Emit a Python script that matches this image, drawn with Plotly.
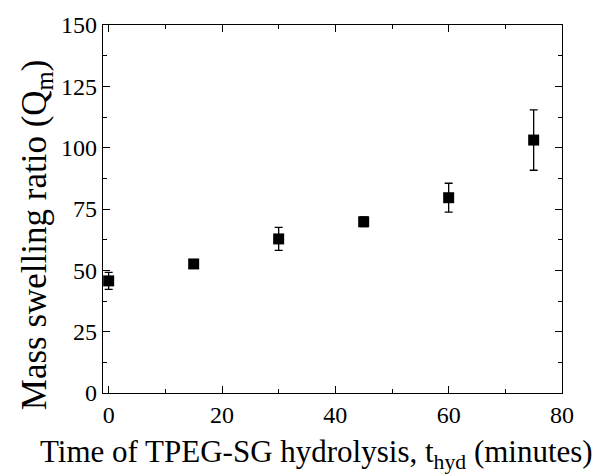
import plotly.graph_objects as go

time_min = [0, 15, 30, 45, 60, 75]
swelling = [45.7, 52.6, 62.8, 69.8, 79.6, 103.1]
swelling_err = [3.5, 1.0, 4.7, 2.0, 5.9, 12.3]

FONT = "'Times New Roman', 'Liberation Serif', Tinos, Times, serif"

fig = go.Figure()
fig.add_trace(go.Scatter(
    x=time_min, y=swelling, mode="markers",
    marker=dict(symbol="square", size=11, color="black"),
    error_y=dict(type="data", array=swelling_err, color="black", thickness=1.3, width=4),
    showlegend=False,
))

axis_common = dict(
    showline=True, linecolor="black", linewidth=1.3, mirror="ticks",
    ticks="inside", ticklen=7, tickwidth=1.3, tickcolor="black",
    showgrid=False, zeroline=False,
    tickfont=dict(family=FONT, size=24, color="black"),
)

fig.update_xaxes(range=[-1, 80], tick0=0, dtick=20,
                 minor=dict(dtick=10, ticks="inside", ticklen=4, tickwidth=1.3, tickcolor="black"),
                 **axis_common)
fig.update_yaxes(range=[0, 150], tick0=0, dtick=25,
                 minor=dict(dtick=12.5, ticks="inside", ticklen=4, tickwidth=1.3, tickcolor="black"),
                 **axis_common)

fig.add_annotation(
    text="Mass swelling ratio (Q<sub>m</sub>)", textangle=-90,
    xref="paper", yref="paper", x=-0.145, y=0.43, xanchor="center", yanchor="middle",
    showarrow=False, font=dict(family=FONT, size=35, color="black"),
)
fig.add_annotation(
    text="Time of TPEG-SG hydrolysis, t<sub>hyd</sub> (minutes)",
    xref="paper", yref="paper", x=0.465, y=-0.166, xanchor="center", yanchor="middle",
    showarrow=False, font=dict(family=FONT, size=31, color="black"),
)

fig.update_layout(
    width=600, height=476,
    margin=dict(l=103, r=38, t=22, b=83),
    paper_bgcolor="white", plot_bgcolor="white",
    font=dict(family=FONT, color="black"),
)

fig.write_html("out.html")
